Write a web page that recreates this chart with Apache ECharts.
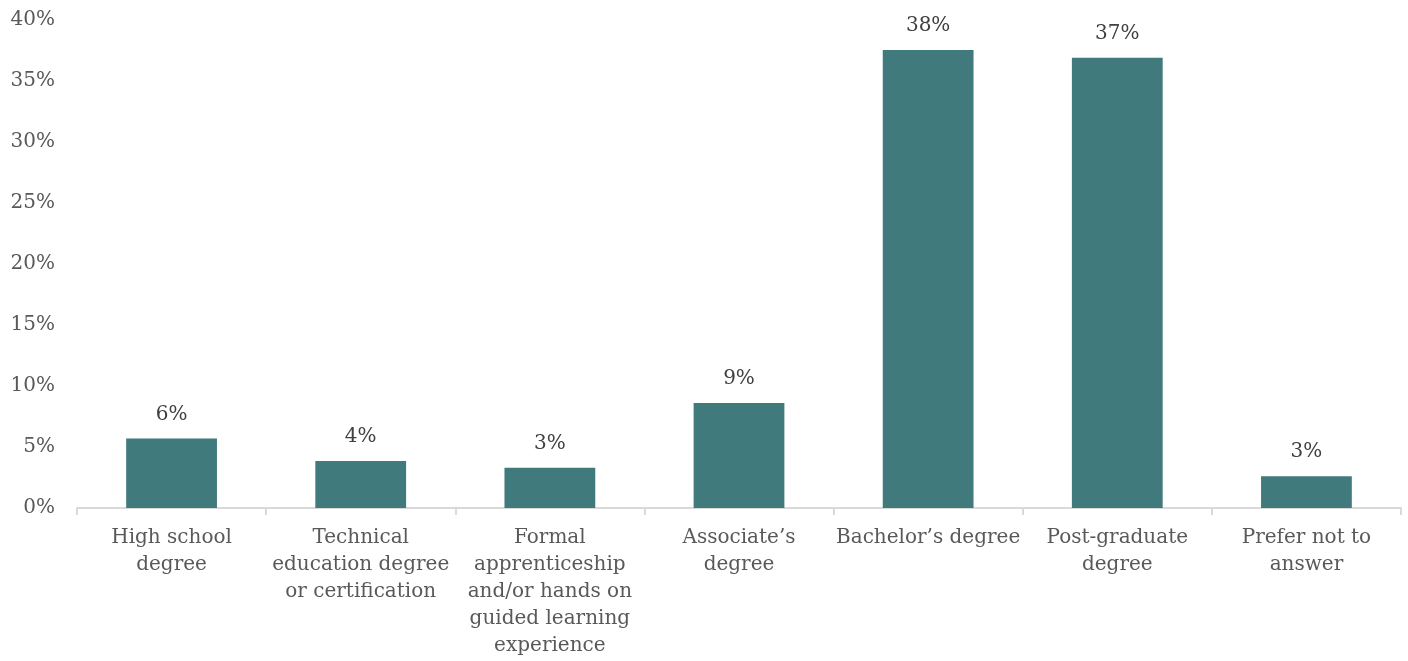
<!DOCTYPE html>
<html><head><meta charset="utf-8">
<script src="https://cdn.jsdelivr.net/npm/echarts@6/dist/echarts.min.js"></script>
<style>html,body{margin:0;padding:0;background:#fff}#c{width:1408px;height:661px}</style>
</head><body><div id="c"></div>
<script>
const categories = [
  "High school\ndegree",
  "Technical\neducation degree\nor certification",
  "Formal\napprenticeship\nand/or hands on\nguided learning\nexperience",
  "Associate’s\ndegree",
  "Bachelor’s degree",
  "Post-graduate\ndegree",
  "Prefer not to\nanswer"
];
const values = [5.7, 3.85, 3.3, 8.6, 37.55, 36.9, 2.6];
const labels = ["6%", "4%", "3%", "9%", "38%", "37%", "3%"];
const yTicks = {min: 0, max: 40, interval: 5};

const FONT = '"DejaVu Serif", Georgia, serif';
const chart = echarts.init(document.getElementById('c'), null, {renderer: 'canvas'});
chart.setOption({
  animation: false,
  grid: {left: 77, right: 7, top: 20, bottom: 153, containLabel: false},
  xAxis: {
    type: 'category',
    data: categories,
    axisLine: {lineStyle: {color: '#d9d9d9', width: 2}},
    axisTick: {show: true, length: 7, lineStyle: {color: '#d9d9d9', width: 2}},
    axisLabel: {color: '#595959', fontFamily: FONT, fontSize: 20, lineHeight: 27, margin: 16, interval: 0}
  },
  yAxis: {
    type: 'value',
    min: yTicks.min, max: yTicks.max, interval: yTicks.interval,
    splitLine: {show: false},
    axisLine: {show: false},
    axisTick: {show: false},
    axisLabel: {color: '#595959', fontFamily: FONT, fontSize: 20, margin: 22, formatter: v => v + '%'}
  },
  series: [{
    type: 'bar',
    data: values,
    barWidth: '48%',
    itemStyle: {color: '#417a7d'},
    label: {
      show: true, position: 'top', distance: 14,
      color: '#404040', fontFamily: FONT, fontSize: 20,
      formatter: p => labels[p.dataIndex]
    }
  }]
});
</script></body></html>
